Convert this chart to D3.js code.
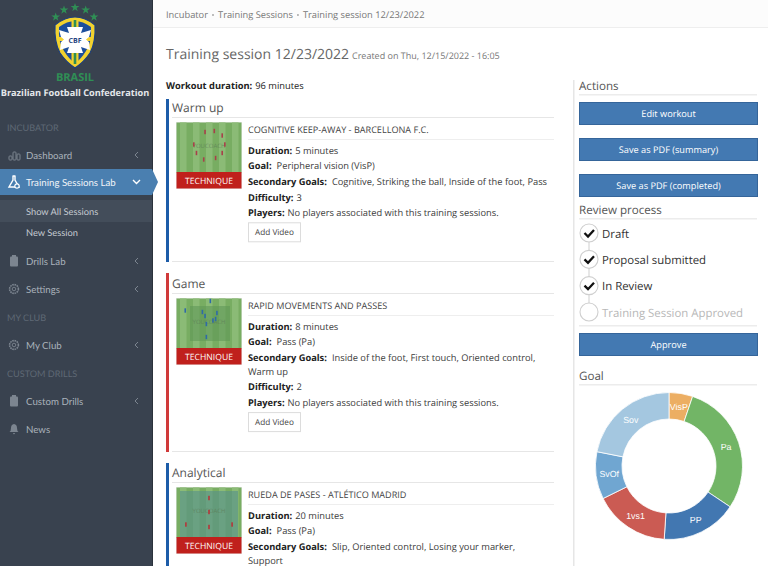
<!DOCTYPE html>
<html>
<head>
<meta charset="utf-8">
<script src="https://d3js.org/d3.v7.min.js"></script>
<style>
  html, body { margin: 0; padding: 0; background: #fff; overflow: hidden; }
  svg { display: block; font-family: "Open Sans", sans-serif; text-rendering: geometricPrecision; }
</style>
</head>
<body>
<div id="chart"></div>
<script>
// goal chart data: minutes of the 96 minute workout per goal
const goalLabels = ['VisP', 'Pa', 'PP', '1vs1', 'SvOf', 'Sov'];
const goalMinutes = [5, 28, 16, 16, 10, 21];
const goalColors = ['#ecae63', '#72b566', '#4277b1', '#cb5b53', '#70a6d1', '#a4c7e0'];

const crumbs = ['Incubator', 'Training Sessions', 'Training session 12/23/2022'];
const reviewSteps = ['Draft', 'Proposal submitted', 'In Review', 'Training Session Approved'];
const reviewDone = [true, true, true, false];
const actionLabels = ['Edit workout', 'Save as PDF (summary)', 'Save as PDF (completed)'];

const menuLabels = ['INCUBATOR', 'Dashboard', 'Training Sessions Lab', 'Show All Sessions', 'New Session',
  'Drills Lab', 'Settings', 'MY CLUB', 'My Club', 'CUSTOM DRILLS', 'Custom Drills', 'News'];
const menuKinds = ['head', 'item', 'active', 'subOn', 'sub', 'item', 'item', 'head', 'item', 'head', 'item', 'leaf'];
const menuIcons = ['', 'bars', 'flask', '', '', 'clip', 'gear', '', 'gear', '', 'clip', 'bell'];
const menuY = [127, 155, 182, 211, 232, 261, 289, 317, 345, 373, 401, 429];

const sectionNames = ['Warm up', 'Game', 'Analytical'];
const sectionColors = ['#1d5ca8', '#d03a3a', '#1d5ca8'];
const drillTitles = ['COGNITIVE KEEP-AWAY - BARCELLONA F.C.', 'RAPID MOVEMENTS AND PASSES', 'RUEDA DE PASES - ATLÉTICO MADRID'];
const drillDurations = ['5 minutes', '8 minutes', '20 minutes'];
const drillGoals = ['Peripheral vision (VisP)', 'Pass (Pa)', 'Pass (Pa)'];
const drillSecondary = [
  ['Cognitive, Striking the ball, Inside of the foot, Pass'],
  ['Inside of the foot, First touch, Oriented control,', 'Warm up'],
  ['Slip, Oriented control, Losing your marker,', 'Support']
];
// the third drill runs off the bottom of the page before its difficulty row
const drillDifficulty = ['3', '2'];
const noPlayers = 'No players associated with this training sessions.';

// players on the thumbnails, in percent of the pitch
const drillPlayers = [
  [[44, 20], [58, 18], [70, 27], [74, 45], [70, 62], [60, 72], [42, 75], [31, 62], [27, 45]],
  [[52, 6], [40, 28], [62, 30], [44, 36], [56, 45], [60, 42], [46, 52], [46, 78], [14, 25]],
  [[50, 22], [50, 50], [50, 80], [15, 75], [85, 75]]
];
const playerColors = ['#a8404a', '#2f6aa8', '#b5363a'];
const pitchTints = ['none', 'box', 'full'];

const width = 768;
const height = 566;

const svg = d3.select('#chart').append('svg').attr('width', width).attr('height', height);

function label(parent, x, y, str, size, fill, weight, anchor) {
  return parent.append('text')
    .attr('x', x).attr('y', y)
    .attr('font-size', size)
    .attr('fill', fill)
    .attr('font-weight', weight || 400)
    .attr('text-anchor', anchor || 'start')
    .text(str);
}

function rule(parent, x1, x2, y, color) {
  parent.append('rect').attr('x', x1).attr('y', y).attr('width', x2 - x1).attr('height', 1).attr('fill', color || '#e6e6e6');
}

//sidebar
const side = svg.append('g');
side.append('rect').attr('width', 152).attr('height', height).attr('fill', '#39424f');
side.append('rect').attr('x', 152).attr('width', 1).attr('height', height).attr('fill', '#2b323c');

const stars = d3.symbol().type(d3.symbolStar).size(24);
[[55.7, 17], [64, 10], [75, 7.5], [85.7, 10], [94, 17]].forEach((p) => {
  side.append('path').attr('d', stars()).attr('transform', `translate(${p[0]},${p[1]})`).attr('fill', '#2f8f55');
});

// shield
side.append('path').attr('d', 'M55 25 Q75 9 95 25 Q96 42 90 53 Q84 62 75 68 Q66 62 60 53 Q54 42 55 25 Z').attr('fill', '#f2d22e').attr('stroke', '#1d3f7d').attr('stroke-width', 1.2);
side.append('path').attr('d', 'M59 27 Q75 15 91 27 Q92 42 86 51 Q81 59 75 63.5 Q69 59 64 51 Q58 42 59 27 Z').attr('fill', '#1d4f9c');
side.append('rect').attr('x', 71.5).attr('y', 20).attr('width', 7).attr('height', 44).attr('fill', '#f2d22e');
side.append('rect').attr('x', 73.7).attr('y', 20).attr('width', 2.6).attr('height', 44).attr('fill', '#2f8f55');
side.append('rect').attr('x', 59).attr('y', 37).attr('width', 32).attr('height', 4).attr('fill', '#f2d22e');
side.append('path').attr('d', 'M67 27 L83 27 L81 33 L91 30 L89 37 L86 39.5 L89 42 L90 50 L81 47 L83 53 L67 53 L69 47 L60 50 L61 42 L64 39.5 L61 37 L59 30 L69 33 Z').attr('fill', '#fff');
label(side, 75, 43, 'CBF', 7, '#1d3f7d', 700, 'middle');
label(side, 75, 81, 'BRASIL', 11, '#2f8f55', 700, 'middle');
label(side, 75, 96, 'Brazilian Football Confederation', 9.2, '#e4e7ea', 700, 'middle');

function drawIcon(g, kind, cx, cy, color) {
  const ic = g.append('g').attr('transform', `translate(${cx},${cy})`).attr('fill', 'none').attr('stroke', color);
  if (kind === 'bars') {
    [[-5, 1, 4], [-1, -3, 8], [3, -1, 6]].forEach((b) => {
      ic.append('rect').attr('x', b[0]).attr('y', b[1]).attr('width', 3).attr('height', b[2]).attr('rx', 0.8);
    });
  } else if (kind === 'flask') {
    ic.append('path').attr('d', 'M-1.5 -6 L1.5 -6 M-1 -6 L-1 -2 L-5 5 L5 5 L1 -2 L1 -6').attr('stroke-width', 1.4);
    ic.append('circle').attr('cx', 3).attr('cy', 4).attr('r', 2.2).attr('fill', '#4a7fb0').attr('stroke-width', 1.2);
  } else if (kind === 'clip') {
    ic.append('rect').attr('x', -4).attr('y', -4.5).attr('width', 8).attr('height', 10).attr('rx', 1).attr('fill', color).attr('stroke', 'none');
    ic.append('rect').attr('x', -2).attr('y', -6).attr('width', 4).attr('height', 2.5).attr('fill', color).attr('stroke', 'none');
  } else if (kind === 'gear') {
    ic.append('circle').attr('r', 4.4).attr('stroke-width', 1.6).attr('stroke-dasharray', '1.6 0.7');
    ic.append('circle').attr('r', 1.8).attr('stroke-width', 0.9);
  } else if (kind === 'bell') {
    ic.append('path').attr('d', 'M-4.5 3 Q-3 2 -3 -1 Q-3 -4.5 0 -5 Q3 -4.5 3 -1 Q3 2 4.5 3 Z M-1.2 4 L1.2 4 L0 5.5 Z').attr('fill', color).attr('stroke', 'none');
  }
}

const menuFont = 'Lato, sans-serif';
menuLabels.forEach((name, i) => {
  const kind = menuKinds[i];
  const y = menuY[i];
  if (kind === 'head') {
    label(side, 7, y + 4, name, 9.1, '#5f6975').attr('font-family', menuFont);
    return;
  }
  if (kind === 'active') {
    side.append('rect').attr('x', 0).attr('y', y - 13).attr('width', 152).attr('height', 26).attr('fill', '#4a7fb0');
    side.append('path').attr('d', d3.line()([[152, y - 13], [158, y], [152, y + 13]])).attr('fill', '#4a7fb0');
    drawIcon(side, menuIcons[i], 14, y, '#fff');
    label(side, 26, y + 3.5, name, 9.7, '#f0f4f8').attr('font-family', menuFont);
    side.append('path').attr('d', d3.line()([[133, y - 2], [136.5, y + 1.5], [140, y - 2]])).attr('fill', 'none').attr('stroke', '#fff').attr('stroke-width', 1.4);
    return;
  }
  if (kind === 'subOn') {
    side.append('rect').attr('x', 0).attr('y', y - 11).attr('width', 152).attr('height', 22).attr('fill', '#434d5a');
    label(side, 26, y + 3.5, name, 9.3, '#c3c9d0').attr('font-family', menuFont);
    return;
  }
  if (kind === 'sub') {
    label(side, 26, y + 3.5, name, 9.3, '#c3c9d0').attr('font-family', menuFont);
    return;
  }
  drawIcon(side, menuIcons[i], 14, y, '#7c8590');
  label(side, 26, y + 4, name, 9.7, '#aab2bb').attr('font-family', menuFont);
  if (kind === 'item') {
    side.append('path').attr('d', d3.line()([[138, y - 3], [135, y], [138, y + 3]])).attr('fill', 'none').attr('stroke', '#7c8590').attr('stroke-width', 1);
  }
});

//header
const head = svg.append('g');
head.append('rect').attr('x', 153).attr('width', width - 153).attr('height', 27).attr('fill', '#fcfcfc');
rule(head, 153, width, 27, '#eeeeee');
let crumbX = 166;
crumbs.forEach((c, i) => {
  const t = label(head, crumbX, 18, c, 9.3, '#777');
  crumbX += t.node().getComputedTextLength();
  if (i < crumbs.length - 1) {
    head.append('circle').attr('cx', crumbX + 5).attr('cy', 15).attr('r', 1).attr('fill', '#aaa');
    crumbX += 10;
  }
});
label(head, 166, 59, 'Training session 12/23/2022', 14, '#666');
label(head, 352, 59, 'Created on Thu, 12/15/2022 - 16:05', 9, '#777');

//sessions
const main = svg.append('g');
const ink = '#3a3a3a';
const bodySize = 9.3;
let bold = label(main, 166, 89, 'Workout duration:', bodySize, '#222', 700);
label(main, 166 + bold.node().getComputedTextLength() + 3, 89, '96 minutes', bodySize, '#222');

const sectionBar = [99, 273, 463];
const sectionTop = [99, 275, 464];
const sectionBottom = [262, 452, 566];
const pitchX = d3.scaleLinear().domain([0, 100]).range([0, 66]);
const pitchY = d3.scaleLinear().domain([0, 100]).range([0, 50]);

function drawPitch(g, i, x, y) {
  g.append('rect').attr('x', x).attr('y', y).attr('width', 66).attr('height', 67).attr('fill', '#e8e8e8');
  g.append('rect').attr('x', x + 0.5).attr('y', y + 0.5).attr('width', 65).attr('height', 50).attr('fill', '#78ad62');
  d3.range(5).forEach((k) => {
    g.append('rect').attr('x', x + 4 + k * 13).attr('y', y + 0.5).attr('width', 6.5).attr('height', 50).attr('fill', '#8bbb76');
  });
  if (pitchTints[i] === 'box') {
    g.append('rect').attr('x', x + 14).attr('y', y + 8).attr('width', 40).attr('height', 35).attr('fill', '#5d9655').attr('opacity', 0.55);
  }
  if (pitchTints[i] === 'full') {
    g.append('rect').attr('x', x + 4).attr('y', y + 4).attr('width', 58).attr('height', 46).attr('fill', '#55908a').attr('opacity', 0.6);
  }
  label(g, x + 33, y + 26, 'YOUCOACH', 6, '#5d7d58', 400, 'middle').attr('opacity', 0.7);
  g.selectAll(null)
    .data(drillPlayers[i])
    .join('rect')
    .attr('x', (d) => x + pitchX(d[0]) - 0.8)
    .attr('y', (d) => y + pitchY(d[1]) - 2.2)
    .attr('width', 1.6)
    .attr('height', 4.4)
    .attr('fill', playerColors[i]);
  g.append('rect').attr('x', x + 0.5).attr('y', y + 50).attr('width', 65).attr('height', 16.5).attr('fill', '#c0201c');
  label(g, x + 33, y + 62, 'TECHNIQUE', 8.6, '#fff', 400, 'middle');
}

function goalRow(g, x, y, name, val, gap) {
  const b = label(g, x, y, name, bodySize, '#222', 700);
  label(g, x + b.node().getComputedTextLength() + gap, y, val, bodySize, ink);
}

sectionNames.forEach((name, i) => {
  const top = sectionTop[i];
  const g = main.append('g');
  g.append('rect').attr('x', 166).attr('y', sectionBar[i]).attr('width', 3).attr('height', sectionBottom[i] - sectionBar[i]).attr('fill', sectionColors[i]);
  label(g, 172, top + 12.7, name, 12, '#555');
  rule(g, 172, 554, top + 18);
  drawPitch(g, i, 176, top + 23);
  label(g, 248, top + 33.7, drillTitles[i], 9.1, '#444');
  rule(g, 248, 554, top + 40, '#eeeeee');
  let y = top + 54.5;
  goalRow(g, 248, y, 'Duration:', drillDurations[i], 3);
  y += 15.7;
  goalRow(g, 248, y, 'Goal:', drillGoals[i], 5);
  y += 15.7;
  goalRow(g, 248, y, 'Secondary Goals:', drillSecondary[i][0], 5);
  if (drillSecondary[i][1]) {
    y += 13.8;
    label(g, 248, y, drillSecondary[i][1], bodySize, ink);
  }
  if (drillDifficulty[i] === undefined) return;
  y += 15.7;
  goalRow(g, 248, y, 'Difficulty:', drillDifficulty[i], 3);
  y += 15.7;
  goalRow(g, 248, y, 'Players:', noPlayers, 3);
  g.append('rect').attr('x', 248.5).attr('y', y + 6.5).attr('width', 52).attr('height', 19).attr('fill', '#fff').attr('stroke', '#dcdcdc');
  label(g, 274.5, y + 19, 'Add Video', 8.2, '#444', 400, 'middle');
  rule(g, 172, 554, sectionBottom[i] - 1);
});

//right column
const right = svg.append('g');
right.append('rect').attr('x', 573).attr('y', 80).attr('width', 1.5).attr('height', height - 80).attr('fill', '#e6e6e6');

function heading(txt, y) {
  label(right, 579, y + 4.5, txt, 11.6, '#555');
  right.append('rect').attr('x', 579).attr('y', y + 9).attr('width', 178).attr('height', 1.5).attr('fill', '#ececec');
}

function blueButton(txt, y, h) {
  right.append('rect').attr('x', 579.5).attr('y', y + 0.5).attr('width', 178).attr('height', h).attr('fill', '#4379b2').attr('stroke', '#35659a');
  label(right, 668.5, y + h / 2 + 4, txt, 9.2, '#fff', 400, 'middle');
}

heading('Actions', 85);
const actionY = [102, 138, 174];
actionLabels.forEach((txt, i) => blueButton(txt, actionY[i], 22));

heading('Review process', 209);
const stepY = d3.scalePoint().domain(reviewSteps).range([233, 312]);
right.append('line').attr('x1', 589).attr('x2', 589).attr('y1', stepY(reviewSteps[0])).attr('y2', stepY(reviewSteps[3])).attr('stroke', '#cfcfcf');
reviewSteps.forEach((s, i) => {
  const y = stepY(s);
  right.append('circle').attr('cx', 589).attr('cy', y).attr('r', 9).attr('fill', '#fff').attr('stroke', '#cfcfcf').attr('stroke-width', 1.1);
  if (reviewDone[i]) {
    right.append('path').attr('d', d3.line()([[584.5, y], [588, y + 3.5], [594, y - 3]])).attr('fill', 'none').attr('stroke', '#111').attr('stroke-width', 2.3);
  }
  label(right, 602, y + 4.5, s, 11.4, reviewDone[i] ? '#333' : '#b8b8b8');
});
right.append('rect').attr('x', 579).attr('y', 325).attr('width', 178).attr('height', 1.5).attr('fill', '#ececec');
blueButton('Approve', 333, 22);

heading('Goal', 375);

//donut
const donutCtr = right.append('g').attr('transform', 'translate(669, 466)');
const goals = goalLabels.map((d, i) => ({ name: d, minutes: goalMinutes[i] }));
const pie = d3.pie().sort(null).value((d) => d.minutes);
const arc = d3.arc().innerRadius(47).outerRadius(73.5);
const colorScale = d3.scaleOrdinal().domain(goalLabels).range(goalColors);

donutCtr.selectAll('path')
  .data(pie(goals))
  .join('path')
  .attr('d', arc)
  .attr('fill', (d) => colorScale(d.data.name))
  .attr('stroke', '#fff')
  .attr('stroke-width', 0.8);

donutCtr.selectAll('text')
  .data(pie(goals))
  .join('text')
  .attr('transform', (d) => `translate(${arc.centroid(d)})`)
  .attr('dy', '0.35em')
  .attr('text-anchor', 'middle')
  .attr('font-family', '"Liberation Sans", Arial, sans-serif')
  .attr('font-size', 8.8)
  .attr('fill', '#fff')
  .text((d) => d.data.name);
</script>
</body>
</html>
